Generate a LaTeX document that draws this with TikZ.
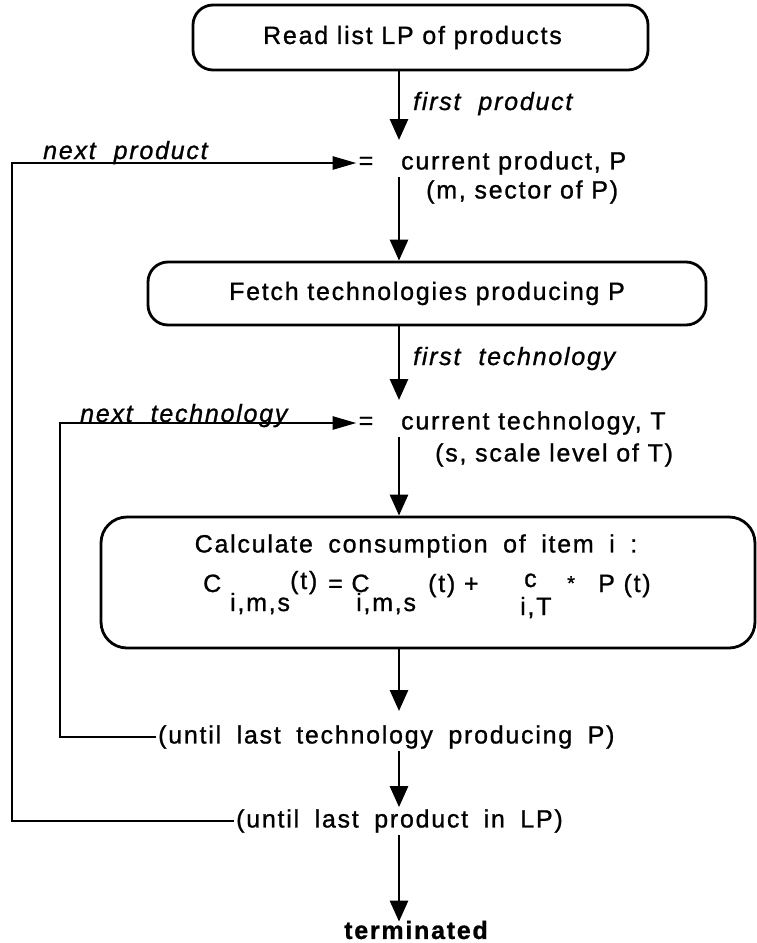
\documentclass[tikz,border=0pt]{standalone}
\usepackage{fontspec}
\setmainfont{Liberation Sans}[LetterSpace=7,FakeBold=1.0]
\usetikzlibrary{arrows.meta}
\begin{document}
\begin{tikzpicture}[x=1pt,y=-1pt,
  txt/.style={font=\fontsize{25}{30}\selectfont, inner sep=2pt},
  widetxt/.style={font={\fontsize{25}{30}\selectfont\spaceskip=15.5pt\relax}, inner sep=2pt},
  lbl/.style={font={\fontsize{25}{30}\selectfont\itshape\spaceskip=18pt\relax}, inner sep=0pt},
  fx/.style={font=\fontsize{25}{30}\selectfont, inner sep=0pt, anchor=base west},
  procbox/.style={draw, line width=2.8pt, rounded corners=20pt, inner sep=0pt,
    font=\fontsize{25}{30}\selectfont},
  flow/.style={line width=2.8pt, -{Triangle[width=18pt,length=21pt]}},
  back/.style={line width=2.8pt, -{Triangle[width=13pt,length=24pt]}},
]
\useasboundingbox (0,0) rectangle (757,943);

% column of the main flow and the two return lines
\coordinate (col) at (399,0);
\coordinate (L1) at (12,0);
\coordinate (L2) at (60,0);
\coordinate (t1) at (399,140);
\coordinate (t3) at (399,400);
\coordinate (t5) at (399,711);

% process boxes
\node[procbox, minimum width=455pt, minimum height=65pt] (box1) at (420.5,37.5)
  {Read list LP of products\hspace*{16pt}};
\node[procbox, minimum width=558pt, minimum height=63pt] (box2) at (427,293.5)
  {Fetch technologies producing P};
\node[procbox, rounded corners=26pt, minimum width=654pt, minimum height=131pt] (box3) at (428,582.5) {};

% product loop
\node[lbl, anchor=base west] (fp) at (413,110) {first product};
\node[txt] (eq1) at (366,163) {=};
\node[txt, anchor=west] (cp) at (399,163) {current product, P};
\node[txt, anchor=west] (ms) at (424,192) {(m, sector of P)};
\node[lbl, anchor=base west] (np) at (43,159) {next product};

% technology loop
\node[lbl, anchor=base west] (ft) at (413,365) {first technology};
\node[txt] (eq2) at (366,423) {=};
\node[txt, anchor=west] (ct) at (399,423) {current technology, T};
\node[txt, anchor=west] (sl) at (433,455) {(s, scale level of T)};
\node[lbl, anchor=base west] (nt) at (80,422) {next technology};

% consumption formula
\node[widetxt] (calc) at (416,546) {Calculate consumption of item i :};
\node[fx] (f1) at (203,592) {C};
\node[fx] (f2) at (230,611) {i,m,s};
\node[fx] (f3) at (290,589) {(t)};
\node[fx] (f4) at (328,592) {= C};
\node[fx] (f5) at (356,611) {i,m,s};
\node[fx] (f6) at (428,592) {(t) +};
\node[fx] (f7) at (524,587) {c};
\node[fx] (f8) at (520,615) {i,T};
\node[fx, font=\fontsize{20}{24}\selectfont] (f9) at (567,590) {*};
\node[fx] (f10) at (598,592) {P (t)};

% loop ends
\node[widetxt, anchor=west] (ut) at (156,737) {(until last technology producing P)};
\node[widetxt, anchor=west] (lp) at (234,821) {(until last product in LP)};
\node[txt, font=\fontsize{25}{30}\selectfont\bfseries] (term) at (416,930) {terminated};

% connectors
\draw[flow] (box1.south -| col) -- (t1);
\draw[flow] (cp.south -| col) -- (box2.north -| col);
\draw[flow] (box2.south -| col) -- (t3);
\draw[flow] (ct.south -| col) -- (box3.north -| col);
\draw[flow] (box3.south -| col) -- (t5);
\draw[flow] (ut.south -| col) -- (lp.north -| col);
\draw[flow] (lp.south -| col) -- ([yshift=-3pt]term.north -| col);
\draw[back] (ut.west) -- (ut.west -| L2) |- (eq2.west);
\draw[back] (lp.west) -- (lp.west -| L1) |- (eq1.west);
\end{tikzpicture}
\end{document}
